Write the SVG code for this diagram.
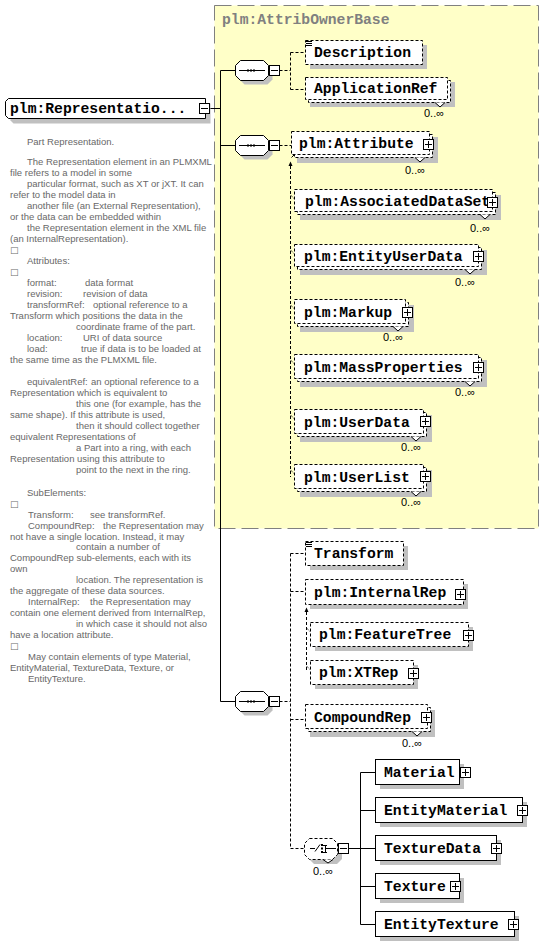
<svg xmlns="http://www.w3.org/2000/svg" xmlns:xlink="http://www.w3.org/1999/xlink" width="544" height="943" viewBox="0 0 544 943">
<style>
.sh{fill:#c0c0c0}
.bx{fill:#fff;stroke:#000}
.op{fill:#fff;stroke:#000;stroke-dasharray:3 2}
.nm{font-family:"Liberation Mono",monospace;font-weight:bold;font-size:14.7px;fill:#000}
.oc{font-family:"Liberation Sans",sans-serif;font-size:11px;fill:#000}
.dc{font-family:"Liberation Sans",sans-serif;font-size:9.5px;fill:#686868}
.ck{font-family:"DejaVu Sans",sans-serif;font-size:9px;fill:#686868}
.ln{stroke:#000;fill:none}
.dl{stroke:#000;fill:none;stroke-dasharray:3 2}
.tk{stroke:#000;fill:none;stroke-dasharray:1 1}
.vn{fill:#fff;stroke:#000}
.ic{stroke:#000;fill:none}
</style>
<defs>
<g id="mn"><rect x="0.5" y="0.5" width="10" height="10" fill="#fff" stroke="#000"/><path d="M2 5.5H9" stroke="#000"/></g>
<g id="pl"><rect x="0.5" y="0.5" width="10" height="10" fill="#fff" stroke="#000"/><path d="M2 5.5H9M5.5 2V9" stroke="#000"/></g>
<path id="oct" d="M5,0H28L33,5V15L28,20H5L0,15V5Z"/>
<path id="octc" d="M5,0H28L33,5V16L28,21H5L0,16V5Z"/>
<g id="seqi"><path d="M4 10.5H30" stroke="#000"/><rect x="12" y="9.5" width="2" height="2" fill="#000"/><rect x="15" y="9.5" width="2" height="2" fill="#000"/><rect x="18" y="9.5" width="2" height="2" fill="#000"/></g>
</defs>

<g id="base">
<rect x="214.5" y="5.5" width="324" height="523" fill="#ffffc8" stroke="#808080" stroke-dasharray="17 6"/>
<text x="222" y="24" class="nm" style="fill:#808080">plm:AttribOwnerBase</text>
</g>

<g id="connectors">
<path class="ln" d="M209.5 108.5H220.5M220.5 70.5V701.5M220.5 70.5H235.5M220.5 145.5H235.5M220.5 701.5H235.5"/>
<path class="dl" d="M279.5 70.5H290.5M290.5 52.5V89.5M290.5 52.5H305.5M290.5 89.5H305.5"/>
<path class="dl" d="M279.5 145.5H291.5"/>
<path class="dl" d="M290.5 166V477"/>
<path class="tk" d="M290.5 195L295 199.5M290.5 250L295 254.5M290.5 305L295 309.5M290.5 360L295 364.5M290.5 415L295 419.5M290.5 470L295 474.5"/>
<path fill="#000" d="M288.5 166L290.5 161.5L292.5 166Z"/>
<path class="ln" d="M291.5 157.5L295.5 153.5"/><path fill="#000" d="M293.5 152.5L297 151.5L296 155Z"/>
<path class="dl" d="M279.5 701.5H290.5M290.5 553.5V848.5M290.5 553.5H305.5M290.5 591.5H305.5M290.5 719.5H305.5M290.5 848.5H304.5"/>
<path class="dl" d="M306.5 612V670"/>
<path class="tk" d="M306.5 628L310.5 632M306.5 666L310.5 670"/>
<path fill="#000" d="M304.5 612L306.5 607.5L308.5 612Z"/>
<path class="ln" d="M306.5 602.5L310 599"/><path fill="#000" d="M308 598L311.5 597L310.5 600.5Z"/>
<path class="ln" d="M348.5 848.5H360.5M360.5 772.5V924.5M360.5 772.5H375.5M360.5 810.5H375.5M360.5 848.5H375.5M360.5 886.5H375.5M360.5 924.5H375.5"/>
</g>

<g id="root">
<path class="sh" d="M13.5,103.5H210.5V123.5H13.5L10.5,120.5V106.5Z"/>
<path class="bx" d="M8.5,98.5H205.5V118.5H8.5L5.5,115.5V101.5Z"/>
<text x="10" y="113" class="nm">plm:Representatio...</text>
<use xlink:href="#mn" x="199" y="103"/>
</g>

<g id="doc">
<text class="dc" x="27" y="145">Part Representation.</text>
<text class="dc" x="27" y="165">The Representation element in an PLMXML</text>
<text class="dc" x="10" y="176">file refers to a model in some</text>
<text class="dc" x="27" y="186.5">particular format, such as XT or jXT. It can</text>
<text class="dc" x="10" y="197.5">refer to the model data in</text>
<text class="dc" x="27" y="208.5">another file (an External Representation),</text>
<text class="dc" x="10" y="219.5">or the data can be embedded within</text>
<text class="dc" x="27" y="230.5">the Representation element in the XML file</text>
<text class="dc" x="10" y="241.5">(an InternalRepresentation).</text>
<text class="ck" x="10" y="252.5">□</text>
<text class="dc" x="27" y="263.5">Attributes:</text>
<text class="ck" x="10" y="274.5">□</text>
<text class="dc" x="27" y="285.5">format:</text><text class="dc" x="85" y="285.5">data format</text>
<text class="dc" x="27" y="296.5">revision:</text><text class="dc" x="83" y="296.5">revision of data</text>
<text class="dc" x="27" y="308.3">transformRef:</text><text class="dc" x="93" y="308.3">optional reference to a</text>
<text class="dc" x="10" y="319">Transform which positions the data in the</text>
<text class="dc" x="76" y="330">coordinate frame of the part.</text>
<text class="dc" x="27" y="341">location:</text><text class="dc" x="83" y="341">URI of data source</text>
<text class="dc" x="27" y="352">load:</text><text class="dc" x="81" y="352">true if data is to be loaded at</text>
<text class="dc" x="10" y="363">the same time as the PLMXML file.</text>
<text class="dc" x="27" y="385">equivalentRef:</text><text class="dc" x="91" y="385">an optional reference to a</text>
<text class="dc" x="10" y="396">Representation which is equivalent to</text>
<text class="dc" x="76" y="407">this one (for example, has the</text>
<text class="dc" x="10" y="418">same shape). If this attribute is used,</text>
<text class="dc" x="76" y="429">then it should collect together</text>
<text class="dc" x="10" y="440">equivalent Representations of</text>
<text class="dc" x="76" y="451">a Part into a ring, with each</text>
<text class="dc" x="10" y="462">Representation using this attribute to</text>
<text class="dc" x="76" y="473">point to the next in the ring.</text>
<text class="dc" x="27" y="496">SubElements:</text>
<text class="ck" x="10" y="506.5">□</text>
<text class="dc" x="28" y="517.5">Transform:</text><text class="dc" x="90" y="517.5">see transformRef.</text>
<text class="dc" x="28" y="528.5">CompoundRep:</text><text class="dc" x="103" y="528.5">the Representation may</text>
<text class="dc" x="10" y="539.5">not have a single location. Instead, it may</text>
<text class="dc" x="76" y="550">contain a number of</text>
<text class="dc" x="10" y="561">CompoundRep sub-elements, each with its</text>
<text class="dc" x="10" y="572">own</text>
<text class="dc" x="76" y="583">location. The representation is</text>
<text class="dc" x="10" y="594">the aggregate of these data sources.</text>
<text class="dc" x="28" y="605">InternalRep:</text><text class="dc" x="90" y="605">the Representation may</text>
<text class="dc" x="10" y="616">contain one element derived from InternalRep,</text>
<text class="dc" x="76" y="627">in which case it should not also</text>
<text class="dc" x="10" y="638">have a location attribute.</text>
<text class="ck" x="10" y="649">□</text>
<text class="dc" x="28" y="660">May contain elements of type Material,</text>
<text class="dc" x="10" y="671">EntityMaterial, TextureData, Texture, or</text>
<text class="dc" x="28" y="682">EntityTexture.</text>
</g>

<g id="seq1">
<use xlink:href="#oct" x="239.5" y="64.5" class="sh"/>
<use xlink:href="#oct" x="235.5" y="60.5" class="bx"/>
<use xlink:href="#seqi" x="235" y="60"/>
<use xlink:href="#mn" x="269" y="65"/>
</g>

<g id="seq2">
<use xlink:href="#oct" x="239.5" y="139.5" class="sh"/>
<use xlink:href="#oct" x="235.5" y="135.5" class="bx"/>
<use xlink:href="#seqi" x="235" y="135"/>
<use xlink:href="#mn" x="269" y="140"/>
</g>

<g id="seq3">
<use xlink:href="#oct" x="239.5" y="695.5" class="sh"/>
<use xlink:href="#oct" x="235.5" y="691.5" class="bx"/>
<use xlink:href="#seqi" x="235" y="691"/>
<use xlink:href="#mn" x="269" y="696"/>
</g>

<g id="Description">
<rect class="sh" x="310" y="45" width="117" height="24"/>
<rect class="op" x="305.5" y="40.5" width="117" height="24"/>
<path class="ic" d="M306 41.5H312M306 43.5H312M306 45.5H312"/>
<text class="nm" x="314" y="57">Description</text>
</g>

<g id="ApplicationRef">
<rect class="sh" x="310" y="82" width="145" height="25"/>
<rect class="op" x="308.5" y="80.5" width="142" height="22"/>
<rect class="op" x="305.5" y="77.5" width="142" height="22"/>
<path class="vn" d="M435 102.5L440 107L445 102.5"/>
<text class="nm" x="314" y="93">ApplicationRef</text>
<text class="oc" x="424" y="117">0..∞</text>
</g>

<g id="Attribute">
<rect class="sh" x="297" y="137" width="141" height="26"/>
<rect class="op" x="294.5" y="134.5" width="138" height="23"/>
<rect class="op" x="291.5" y="131.5" width="138" height="23"/>
<path class="vn" d="M415 157.5L420 162L425 157.5"/>
<text class="nm" x="299" y="148">plm:Attribute</text>
<use xlink:href="#pl" x="423" y="139"/>
<text class="oc" x="405" y="174">0..∞</text>
</g>

<g id="AssociatedDataSet">
<rect class="sh" x="300" y="195" width="201" height="25"/>
<rect class="op" x="297.5" y="192.5" width="198" height="22"/>
<rect class="op" x="294.5" y="189.5" width="198" height="22"/>
<path class="vn" d="M480 214.5L485 219L490 214.5"/>
<text class="nm" x="305" y="205.5">plm:AssociatedDataSet</text>
<use xlink:href="#pl" x="487" y="197"/>
<text class="oc" x="470" y="232">0..∞</text>
</g>

<g id="EntityUserData">
<rect class="sh" x="300" y="250" width="187" height="25"/>
<rect class="op" x="297.5" y="247.5" width="184" height="22"/>
<rect class="op" x="294.5" y="244.5" width="184" height="22"/>
<path class="vn" d="M465 269.5L470 274L475 269.5"/>
<text class="nm" x="304" y="260.5">plm:EntityUserData</text>
<use xlink:href="#pl" x="473" y="251"/>
<text class="oc" x="455" y="286">0..∞</text>
</g>

<g id="Markup">
<rect class="sh" x="300" y="305" width="114" height="27"/>
<rect class="op" x="297.5" y="302.5" width="111" height="24"/>
<rect class="op" x="294.5" y="299.5" width="111" height="24"/>
<path class="vn" d="M393 326.5L398 331L403 326.5"/>
<text class="nm" x="304" y="316.5">plm:Markup</text>
<use xlink:href="#pl" x="402" y="307"/>
<text class="oc" x="383" y="341">0..∞</text>
</g>

<g id="MassProperties">
<rect class="sh" x="300" y="360" width="187" height="27"/>
<rect class="op" x="297.5" y="357.5" width="184" height="24"/>
<rect class="op" x="294.5" y="354.5" width="184" height="24"/>
<path class="vn" d="M465 381.5L470 386L475 381.5"/>
<text class="nm" x="304" y="371.5">plm:MassProperties</text>
<use xlink:href="#pl" x="473" y="362"/>
<text class="oc" x="455" y="396">0..∞</text>
</g>

<g id="UserData">
<rect class="sh" x="300" y="415" width="132" height="27"/>
<rect class="op" x="297.5" y="412.5" width="129" height="24"/>
<rect class="op" x="294.5" y="409.5" width="129" height="24"/>
<path class="vn" d="M411 436.5L416 441L421 436.5"/>
<text class="nm" x="304" y="426.5">plm:UserData</text>
<use xlink:href="#pl" x="420" y="416"/>
<text class="oc" x="401" y="451">0..∞</text>
</g>

<g id="UserList">
<rect class="sh" x="300" y="470" width="132" height="27"/>
<rect class="op" x="297.5" y="467.5" width="129" height="24"/>
<rect class="op" x="294.5" y="464.5" width="129" height="24"/>
<path class="vn" d="M411 491.5L416 496L421 491.5"/>
<text class="nm" x="304" y="481.5">plm:UserList</text>
<use xlink:href="#pl" x="420" y="471"/>
<text class="oc" x="401" y="506">0..∞</text>
</g>

<g id="Transform">
<rect class="sh" x="310" y="546" width="98" height="24"/>
<rect class="op" x="305.5" y="541.5" width="98" height="24"/>
<path class="ic" d="M306 542.5H312M306 544.5H312M306 546.5H312"/>
<text class="nm" x="314" y="558">Transform</text>
</g>

<g id="InternalRep">
<rect class="sh" x="310" y="584" width="158" height="25"/>
<rect class="op" x="305.5" y="579.5" width="158" height="25"/>
<text class="nm" x="314" y="596.5">plm:InternalRep</text>
<use xlink:href="#pl" x="455" y="589"/>
</g>

<g id="FeatureTree">
<rect class="sh" x="315" y="627" width="158" height="24"/>
<rect class="op" x="310.5" y="622.5" width="158" height="24"/>
<text class="nm" x="319" y="639">plm:FeatureTree</text>
<use xlink:href="#pl" x="463" y="630"/>
</g>

<g id="XTRep">
<rect class="sh" x="315" y="665" width="103" height="24"/>
<rect class="op" x="310.5" y="660.5" width="103" height="24"/>
<text class="nm" x="319" y="677">plm:XTRep</text>
<use xlink:href="#pl" x="408" y="668"/>
</g>

<g id="CompoundRep">
<rect class="sh" x="310" y="710" width="125" height="27"/>
<rect class="op" x="308.5" y="707.5" width="122" height="24"/>
<rect class="op" x="305.5" y="704.5" width="122" height="24"/>
<path class="vn" d="M412 731.5L417 736L422 731.5"/>
<text class="nm" x="314" y="721.5">CompoundRep</text>
<use xlink:href="#pl" x="421" y="712"/>
<text class="oc" x="402" y="747">0..∞</text>
</g>

<g id="choice">
<use xlink:href="#octc" x="309" y="843" class="sh"/>
<use xlink:href="#octc" x="304.5" y="838.5" class="op"/>
<path class="vn" d="M323 859.5L328 863L333 859.5"/>
<path class="ic" d="M310 848.5H315M315 851.5L320 844.5M325.5 845V853M323 845.5H327M323 852.5H327M325.5 848.5H336"/>
<rect x="321" y="844" width="2" height="2" fill="#000"/>
<rect x="321" y="847.5" width="2" height="2" fill="#000"/>
<rect x="321" y="851" width="2" height="2" fill="#000"/>
<use xlink:href="#mn" x="338" y="843"/>
<text class="oc" x="313" y="875">0..∞</text>
</g>

<g id="Material">
<rect class="sh" x="380" y="764" width="84" height="25"/>
<rect class="bx" x="375.5" y="759.5" width="84" height="25"/>
<text class="nm" x="384" y="777">Material</text>
<use xlink:href="#pl" x="460" y="767"/>
</g>

<g id="EntityMaterial">
<rect class="sh" x="380" y="802" width="147" height="25"/>
<rect class="bx" x="375.5" y="797.5" width="147" height="25"/>
<text class="nm" x="384" y="815">EntityMaterial</text>
<use xlink:href="#pl" x="517" y="805"/>
</g>

<g id="TextureData">
<rect class="sh" x="380" y="840" width="121" height="25"/>
<rect class="bx" x="375.5" y="835.5" width="121" height="25"/>
<text class="nm" x="384" y="853">TextureData</text>
<use xlink:href="#pl" x="491" y="843"/>
</g>

<g id="Texture">
<rect class="sh" x="380" y="878" width="84" height="25"/>
<rect class="bx" x="375.5" y="873.5" width="84" height="25"/>
<text class="nm" x="384" y="891">Texture</text>
<use xlink:href="#pl" x="450" y="881"/>
</g>

<g id="EntityTexture">
<rect class="sh" x="380" y="916" width="139" height="25"/>
<rect class="bx" x="375.5" y="911.5" width="139" height="25"/>
<text class="nm" x="384" y="929">EntityTexture</text>
<use xlink:href="#pl" x="508" y="919"/>
</g>
</svg>
